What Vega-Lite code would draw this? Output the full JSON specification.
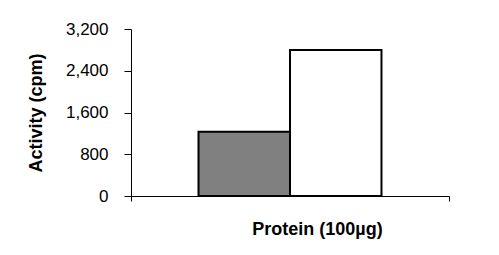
{
  "$schema": "https://vega.github.io/schema/vega-lite/v6.json",
  "autosize": "none",
  "width": 318,
  "height": 167,
  "padding": {"left": 131, "top": 29, "right": 50, "bottom": 59},
  "background": "#ffffff",
  "config": {
    "view": {"stroke": null},
    "font": "Liberation Sans",
    "axis": {"grid": false, "domainColor": "#000000", "domainWidth": 1, "tickColor": "#000000", "labelColor": "#000000", "titleColor": "#000000", "labelFont": "Liberation Sans", "titleFont": "Liberation Sans"}
  },
  "data": {
    "values": [
      {"group": "Protein (100µg)", "series": "A", "activity": 1230},
      {"group": "Protein (100µg)", "series": "B", "activity": 2800}
    ]
  },
  "mark": {"type": "bar", "stroke": "#000000", "strokeWidth": 2},
  "encoding": {
    "x": {
      "field": "group",
      "type": "nominal",
      "scale": {"paddingInner": 0, "paddingOuter": 0},
      "axis": {"labels": false, "tickBand": "extent", "tickSize": 5, "title": "Protein (100µg)", "titleFontSize": 18, "titleFontWeight": "bold", "titlePadding": 19, "titleX": 186}
    },
    "xOffset": {
      "field": "series",
      "type": "nominal",
      "scale": {"paddingInner": 0, "paddingOuter": 0.738}
    },
    "y": {
      "field": "activity",
      "type": "quantitative",
      "scale": {"domain": [0, 3200], "nice": false},
      "axis": {"values": [0, 800, 1600, 2400, 3200], "format": ",.0f", "labelFontSize": 17, "tickSize": 7, "labelPadding": 16, "title": "Activity (cpm)", "titleFontSize": 18, "titleFontWeight": "bold", "titlePadding": 20}
    },
    "fill": {
      "field": "series",
      "type": "nominal",
      "scale": {"range": ["#808080", "#ffffff"]},
      "legend": null
    }
  }
}
